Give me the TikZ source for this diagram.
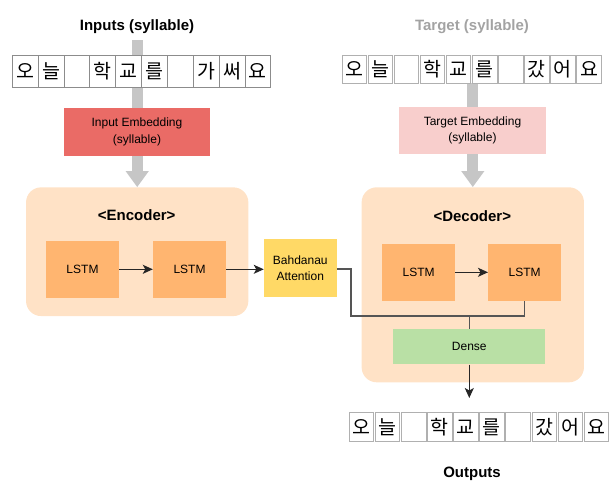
\documentclass[tikz,border=0pt]{standalone}
\usepackage{fontspec}
\setmainfont{Liberation Sans}
\newfontfamily\kr{Noto Sans CJK KR}
\usetikzlibrary{arrows.meta,backgrounds}
\definecolor{inemb}{HTML}{EA6B66}
\definecolor{tgemb}{HTML}{F8CECC}
\definecolor{cont}{HTML}{FFE2C6}
\definecolor{lstm}{HTML}{FFB570}
\definecolor{attn}{HTML}{FFD966}
\definecolor{dense}{HTML}{B9E0A5}
\definecolor{bar}{HTML}{C6C6C6}
\definecolor{titlegray}{HTML}{A3A3A3}
\definecolor{cellline}{HTML}{8C8C8C}
\definecolor{cellline2}{HTML}{B0B0B0}
\definecolor{wire}{HTML}{555555}
\begin{document}
\begin{tikzpicture}[x=1pt,y=-1pt,
  title/.style={font=\fontsize{15}{18}\selectfont\bfseries, inner sep=0pt, anchor=base},
  boxtext/.style={font=\fontsize{12}{16.5}\selectfont, align=center, inner sep=0pt},
  incell/.style={draw=cellline, fill=white, line width=0.8pt, minimum width=25.85pt, minimum height=32pt, inner sep=0pt, font=\kr\fontsize{19.5}{21}\selectfont},
  tcell/.style={draw=cellline2, fill=white, line width=0.8pt, minimum width=24.5pt, minimum height=28.5pt, inner sep=0pt, font=\kr\fontsize{19.5}{21}\selectfont},
  container/.style={fill=cont, rounded corners=15pt, inner sep=0pt},
  lstmbox/.style={boxtext, fill=lstm, minimum width=73pt, minimum height=56.7pt},
  bigarrow/.style={draw=bar, line width=10.7pt, -{Triangle[width=22pt,length=16pt]}},
  conn/.style={draw=black!85, line width=1.2pt, -{Stealth[length=10pt,width=9pt,inset=2.5pt]}},
  wireline/.style={draw=wire, line width=1.3pt}
]
\useasboundingbox (0,0) rectangle (613,482);

% titles
\node[title] (intitle) at (137,30) {Inputs (syllable)};
\node[title, text=titlegray] (tgtitle) at (472,30) {Target (syllable)};
\node[title] (outtitle) at (472,477.5) {Outputs};

% input cells
\foreach \c [count=\i] in {오,늘,{},학,교,를,{},가,써,요}
  \node[incell] (in\i) at ({12.3+25.85*(\i-0.5)},71) {\c};
% target cells
\foreach \c [count=\i] in {오,늘,{},학,교,를,{},갔,어,요}
  \node[tcell] (tg\i) at ({341.9+26.1*(\i-1)+12.25},69.3) {\c};
% output cells
\foreach \c [count=\i] in {오,늘,{},학,교,를,{},갔,어,요}
  \node[tcell] (out\i) at ({349.2+26.1*(\i-1)+12.25},427) {\c};

% embeddings
\node[boxtext, fill=inemb, minimum width=146pt, minimum height=47.7pt] (inemb) at (137,131.8) {Input Embedding\\(syllable)};
\node[boxtext, fill=tgemb, minimum width=146.4pt, minimum height=47.3pt] (tgemb) at (472.5,130.4) {Target Embedding\\(syllable)};

% containers
\node[container, minimum width=222.3pt, minimum height=128.7pt] (enc) at (137.2,251.7) {};
\node[container, minimum width=222.3pt, minimum height=195pt] (dec) at (472.8,284.8) {};
\node[title] (enclabel) at (136.7,220) {<Encoder>};
\node[title] (declabel) at (472.3,221) {<Decoder>};

% inner boxes
\node[lstmbox] (e1) at (82.5,269.3) {LSTM};
\node[lstmbox] (e2) at (189.5,269.3) {LSTM};
\node[boxtext, fill=attn, minimum width=72.7pt, minimum height=57.4pt] (att) at (300.3,268) {Bahdanau\\Attention};
\node[lstmbox] (d1) at (418.7,272.3) {LSTM};
\node[lstmbox] (d2) at (524.7,272.3) {LSTM};
\node[boxtext, fill=dense, minimum width=152pt, minimum height=35.3pt] (dense) at (469.3,346.7) {Dense};

% grey flow arrows
\coordinate (intop) at (137.2,40);
\coordinate (tgtop) at (472.8,83);
\begin{scope}[on background layer]
  \draw[bigarrow] (intop) -- (enc.north);
  \draw[bigarrow] (tgtop) -- (dec.north);
\end{scope}

% connectors
\draw[conn] (e1) -- (e2);
\draw[conn] (e2.east) -- (e2.east -| att.west);
\draw[conn] (d1) -- (d2);
\coordinate (bend) at (351,316);
\coordinate (merge) at (469.3,316);
\coordinate (outtip) at (469.3,398);
\draw[wireline] (att.east |- 0,269) -- (bend |- 0,269) -- (bend) -- (bend -| d2.south) -- (d2.south);
\draw[wireline] (merge) -- (dense.north);
\draw[conn, line width=1.1pt] (dense.south) -- (outtip);
\end{tikzpicture}
\end{document}
